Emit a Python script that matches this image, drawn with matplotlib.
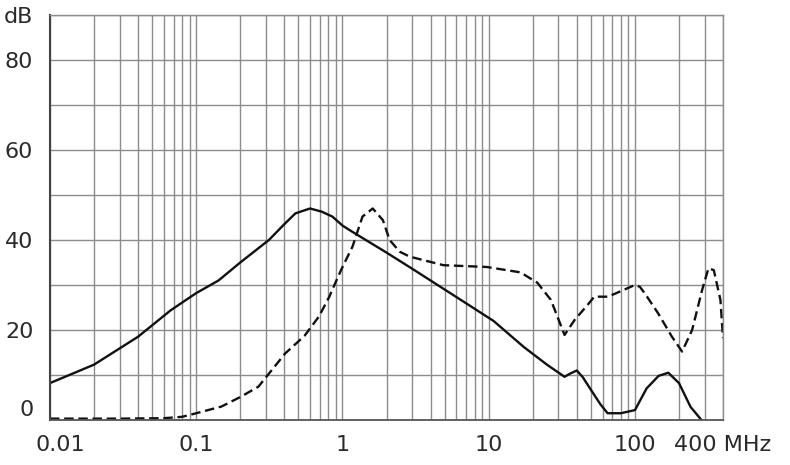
import matplotlib
matplotlib.use("Agg")
import matplotlib.pyplot as plt
import matplotlib.transforms as mtransforms
from matplotlib.ticker import LogLocator, NullFormatter

# Solid curve (frequency in MHz, level in dB)
solid_f = [0.01, 0.02, 0.04, 0.067, 0.1, 0.142, 0.2, 0.314, 0.4, 0.476, 0.6,
           0.72, 0.853, 1.0, 1.17, 2.0, 3.0, 5.7, 10.8, 17.4, 25, 33, 36, 40,
           44, 50, 58, 65, 80, 100, 120, 145, 169, 200, 240, 285]
solid_db = [8.2, 12.3, 18.5, 24.4, 28.2, 31.0, 35.0, 40.0, 43.5, 45.9, 47.0,
            46.3, 45.2, 43.2, 41.8, 37.2, 33.6, 27.8, 22.0, 16.2, 12.3, 9.6, 10.3, 11.0,
            9.5, 6.7, 3.5, 1.5, 1.5, 2.2, 7.0, 9.8, 10.5, 8.2, 2.9, 0.0]

# Dashed curve
dash_f = [0.01, 0.03, 0.06, 0.08, 0.1, 0.149, 0.2, 0.266, 0.406, 0.55, 0.69,
          0.81, 0.9, 1.0, 1.17, 1.37, 1.61, 1.89, 2.1, 2.46, 2.88, 4.9, 9.7,
          16.5, 21.5, 26.6, 33, 38.6, 47.5, 52.7, 65.5, 81, 100, 108, 117, 144,
          179, 210, 246, 288, 318, 346, 384, 400]
dash_db = [0.3, 0.3, 0.4, 0.7, 1.5, 3.0, 5.1, 7.4, 14.8, 18.7, 23.0,
           27.3, 30.7, 34.0, 38.5, 45.2, 47.0, 44.4, 40.0, 37.4, 36.3, 34.4, 34.0,
           32.8, 30.5, 26.7, 18.9, 22.2, 25.6, 27.4, 27.4, 28.7, 30.0, 29.6, 28.1, 23.7,
           18.5, 15.2, 20.0, 28.9, 33.7, 33.3, 26.7, 18.2]

x_ticks = [0.01, 0.1, 1, 10, 100, 400]
x_labels = ["0.01", "0.1", "1", "10", "100", "400 MHz"]
y_ticks = [0, 10, 20, 30, 40, 50, 60, 70, 80, 90]
y_labels = ["0", "", "20", "", "40", "", "60", "", "80", "dB"]

text_col = "#2b2b2b"
grid_col = "#8c8c8c"
line_col = "#111111"

fig = plt.figure(figsize=(7.9, 4.65), dpi=100, facecolor="white")
ax = fig.add_axes([0.0633, 0.0968, 0.8519, 0.871])

ax.set_xscale("log")
ax.set_xlim(0.01, 400)
ax.set_ylim(0, 90)

ax.set_xticks(x_ticks)
ax.set_xticklabels(x_labels)
ax.xaxis.set_minor_locator(LogLocator(base=10, subs=range(2, 10)))
ax.xaxis.set_minor_formatter(NullFormatter())
ax.set_yticks(y_ticks)
ax.set_yticklabels(y_labels)

ax.grid(True, which="both", axis="x", color=grid_col, linewidth=1.0)
ax.grid(True, which="major", axis="y", color=grid_col, linewidth=1.0)
ax.set_axisbelow(True)

ax.tick_params(which="both", length=0, colors=text_col, labelsize=16)
ax.tick_params(axis="x", pad=11)
ax.tick_params(axis="y", pad=12)

# nudge a couple of labels the way the original sits them
ax.get_yticklabels()[0].set_va("bottom")
shift = mtransforms.ScaledTranslation(10 / 100, 0, fig.dpi_scale_trans)
first = ax.get_xticklabels()[0]
first.set_transform(first.get_transform() + shift)

for side in ("top", "right"):
    ax.spines[side].set_color(grid_col)
    ax.spines[side].set_linewidth(1.0)
ax.spines["left"].set_color("#444444")
ax.spines["left"].set_linewidth(1.5)
ax.spines["bottom"].set_color("#555555")
ax.spines["bottom"].set_linewidth(1.3)

ax.plot(solid_f, solid_db, color=line_col, linewidth=1.7,
        solid_joinstyle="round", solid_capstyle="round")
ax.plot(dash_f, dash_db, color=line_col, linewidth=1.7, dashes=(4, 2),
        dash_joinstyle="round")

fig.savefig("out.png", dpi=100, facecolor="white")
